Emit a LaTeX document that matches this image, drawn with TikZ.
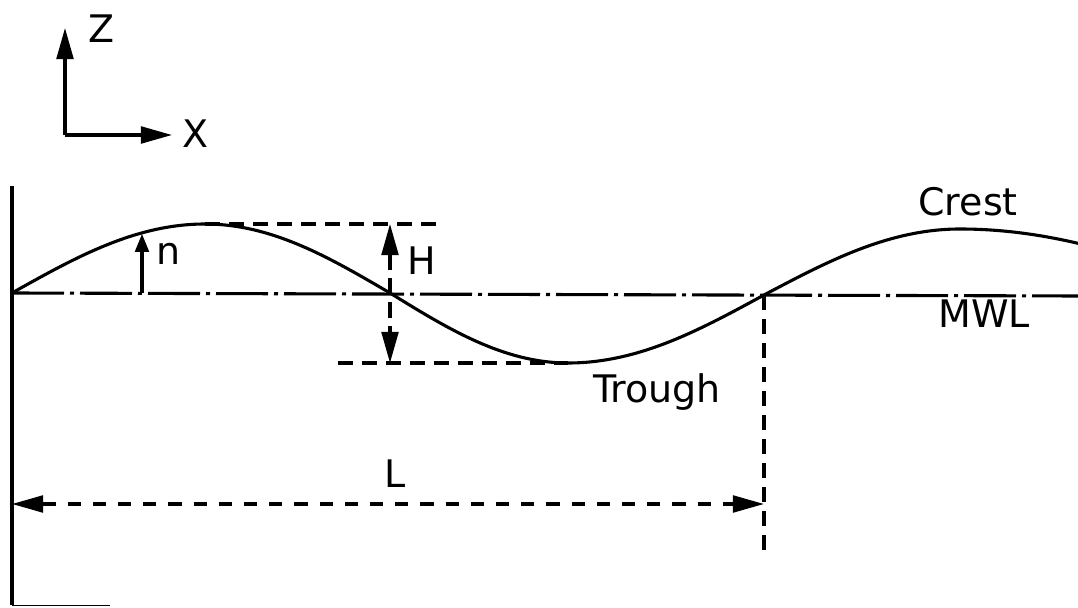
\documentclass[tikz,border=0pt]{standalone}
\usepackage{fontspec}
\setmainfont{DejaVu Sans}
\usetikzlibrary{arrows.meta, positioning}

\begin{document}
\begin{tikzpicture}[
    line width=2.2pt,
    lbl/.style={font=\fontsize{27}{32}\selectfont, inner sep=0pt, anchor=base},
    tip/.tip={Triangle[length=0.78cm, width=0.42cm]},
    axis/.style={-tip},
    mwl/.style={dash pattern=on 1.3cm off 0.15cm on 0.1cm off 0.15cm},
    guide/.style={dash pattern=on 0.38cm off 0.22cm},
    dimH/.style={guide, tip-tip},
    dimL/.style={dash pattern=on 0.33cm off 0.3cm, tip-tip},
    elev/.style={-{Triangle[length=0.45cm, width=0.34cm]}}
  ]
  \useasboundingbox (0,0) rectangle (26.95,15.175);

  % axes
  \coordinate (O) at (1.625,11.8);
  \coordinate (Ztip) at (1.625,14.475);
  \coordinate (Xtip) at (4.3,11.8);
  \draw[axis] (O) -- (Ztip);
  \draw[axis] (O) -- (Xtip);
  \node[lbl] (Z) at (2.55,14.1) {Z};
  \node[lbl] (X) at (4.875,11.475) {X};

  % wall
  \coordinate (wtop) at (0.3,10.525);
  \coordinate (wbot) at (0.3,0.04);
  \coordinate (wfoot) at (2.75,0.04);
  \draw (wtop) -- (wbot);
  \draw[line width=1pt] (wbot) -- (wfoot);

  % still water level
  \coordinate (m0) at (0.3,7.85);
  \coordinate (m1) at (26.95,7.775);
  \draw[mwl] (m0) -- (m1);

  % wave profile
  \coordinate (c1) at (5.125,9.575);
  \coordinate (d1) at (9.75,7.85);
  \coordinate (t1) at (14.2,6.1);
  \coordinate (u1) at (19.1,7.8);
  \coordinate (c2) at (24.0,9.45);
  \coordinate (wend) at (30.9,7.8);
  \begin{scope}
    \clip (0,0) rectangle (26.95,15.175);
    \draw (m0) sin (c1) cos (d1) sin (t1) cos (u1) sin (c2) cos (wend);
  \end{scope}

  % elevation
  \coordinate (n0) at (3.55,7.85);
  \coordinate (n1) at (3.55,9.33);
  \draw[elev] (n0) -- (n1);
  \node[lbl] (eta) at (4.225,8.55) {n};

  % height
  \coordinate (hc) at (11.0,9.575);
  \coordinate (ht) at (8.45,6.1);
  \coordinate (Htop) at (9.75,9.575);
  \coordinate (Hbot) at (9.75,6.1);
  \draw[guide] (c1) -- (hc);
  \draw[guide] (ht) -- (t1);
  \draw[dimH] (Htop) -- (Hbot);
  \node[lbl] (H) at (10.55,8.3) {H};

  % length
  \coordinate (ubot) at (19.1,1.375);
  \coordinate (La) at (0.3,2.575);
  \coordinate (Lb) at (19.1,2.575);
  \draw[guide] (u1) -- (ubot);
  \draw[dimL] (La) -- (Lb);
  \node[lbl] (L) at (9.875,2.975) {L};

  \node[lbl] (crest) at (24.2,9.775) {Crest};
  \node[lbl] (swl) at (24.6,6.975) {MWL};
  \node[lbl] (trough) at (16.425,5.1) {Trough};
\end{tikzpicture}
\end{document}
